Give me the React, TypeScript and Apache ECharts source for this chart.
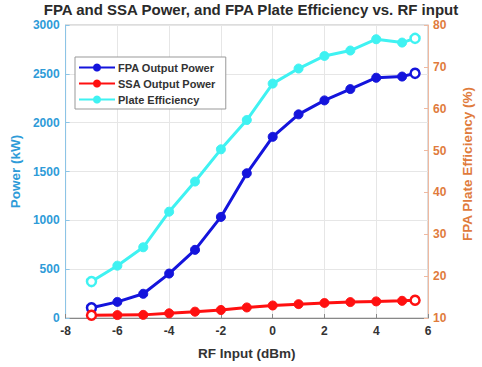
import React, { useEffect, useRef } from "react";
import * as echarts from "echarts";

const rfInput = [-7, -6, -5, -4, -3, -2, -1, 0, 1, 2, 3, 4, 5, 5.5];
const fpaPower = [105, 165, 248, 455, 698, 1035, 1482, 1855, 2085, 2228, 2344, 2460, 2472, 2505];
const ssaPower = [28, 30, 32, 48, 65, 82, 108, 128, 142, 154, 163, 170, 176, 182];
const plateEff = [18.7, 22.5, 26.9, 35.4, 42.6, 50.3, 57.3, 66.0, 69.6, 72.6, 73.9, 76.6, 75.8, 76.8];

const xTicks = [-8, 6, 2];
const leftTicks = [0, 3000, 500];
const rightTicks = [10, 80, 10];

const FONT = "Liberation Sans, Arial, sans-serif";
const BLUE = "#1414dc";
const RED = "#ff1010";
const CYAN = "#3ff2f2";
const LEFT_C = "#2e9bd8";
const RIGHT_C = "#e07b3c";

function mkData(xs: number[], ys: number[]) {
  return xs.map((x, i) => {
    const edge = i === 0 || i === xs.length - 1;
    return edge
      ? { value: [x, ys[i]], itemStyle: { color: "#ffffff", borderWidth: 2.5 } }
      : { value: [x, ys[i]] };
  });
}

export default function App() {
  const ref = useRef<HTMLDivElement>(null);
  useEffect(() => {
    if (!ref.current) return;
    const chart = echarts.init(ref.current, null, { renderer: "svg" });
    const mkSeries = (name: string, ys: number[], color: string, yIdx: number) => ({
      name,
      type: "line",
      yAxisIndex: yIdx,
      data: mkData(rfInput, ys),
      symbol: "circle",
      symbolSize: 9,
      lineStyle: { color, width: 3 },
      itemStyle: { color, borderColor: color, borderWidth: 1 },
      z: 3,
    });
    const plain = (v: number) => String(v);
    chart.setOption({
      animation: false,
      backgroundColor: "#ffffff",
      title: {
        text: "FPA and SSA Power, and FPA Plate Efficiency vs. RF input",
        left: 246,
        top: -3,
        textAlign: "center",
        textStyle: { fontFamily: FONT, fontSize: 15, fontWeight: "bold", color: "#2a2a2a" },
      },
      legend: {
        left: 75,
        top: 57,
        orient: "vertical",
        itemWidth: 36,
        itemHeight: 10,
        itemGap: 5,
        padding: [5, 10, 4, 3],
        backgroundColor: "#ffffff",
        borderColor: "#999999",
        borderWidth: 1,
        borderRadius: 0,
        textStyle: { fontFamily: FONT, fontSize: 11, fontWeight: "bold", color: "#333333", padding: [0, 0, 0, -2] },
        itemStyle: { borderWidth: 0 },
        data: [
          { name: "FPA Output Power", itemStyle: { color: BLUE } },
          { name: "SSA Output Power", itemStyle: { color: RED } },
          { name: "Plate Efficiency", itemStyle: { color: CYAN } },
        ],
      },
      grid: { left: 63, right: 44, top: 25, bottom: 49, show: true, borderColor: "#bbbbbb", borderWidth: 1 },
      xAxis: {
        type: "value",
        min: xTicks[0],
        max: xTicks[1],
        interval: xTicks[2],
        name: "RF Input (dBm)",
        nameLocation: "middle",
        nameGap: 28,
        nameTextStyle: { fontFamily: FONT, fontSize: 13.5, fontWeight: "bold", color: "#333333" },
        axisLine: { show: true, onZero: false, lineStyle: { color: "#888888", width: 1 } },
        axisTick: { show: true, inside: true, length: 4, lineStyle: { color: "#888888" } },
        axisLabel: { fontFamily: FONT, fontSize: 12, fontWeight: "bold", color: "#333333", margin: 7, formatter: plain },
        splitLine: { show: true, lineStyle: { color: "#e6e6e6", width: 1 } },
      },
      yAxis: [
        {
          type: "value",
          position: "left",
          min: leftTicks[0],
          max: leftTicks[1],
          interval: leftTicks[2],
          name: "Power (kW)",
          nameLocation: "middle",
          nameRotate: 90,
          nameGap: 43,
          nameTextStyle: { fontFamily: FONT, fontSize: 13.5, fontWeight: "bold", color: LEFT_C },
          axisLine: { show: true, onZero: false, lineStyle: { color: "#8cc4e6", width: 1 } },
          axisTick: { show: true, inside: true, length: 4, lineStyle: { color: "#8cc4e6" } },
          axisLabel: { fontFamily: FONT, fontSize: 12, fontWeight: "bold", color: LEFT_C, margin: 6, formatter: plain },
          splitLine: { show: true, lineStyle: { color: "#e6e6e6", width: 1 } },
        },
        {
          type: "value",
          position: "right",
          min: rightTicks[0],
          max: rightTicks[1],
          interval: rightTicks[2],
          name: "FPA Plate Efficiency (%)",
          nameLocation: "middle",
          nameRotate: 90,
          nameGap: 32,
          nameTextStyle: { fontFamily: FONT, fontSize: 13.5, fontWeight: "bold", color: RIGHT_C, padding: [0, 0, 0, 15] },
          axisLine: { show: true, onZero: false, lineStyle: { color: "#efb9a0", width: 1 } },
          axisTick: { show: true, inside: true, length: 4, lineStyle: { color: "#efb9a0" } },
          axisLabel: { fontFamily: FONT, fontSize: 12, fontWeight: "bold", color: RIGHT_C, margin: 5, formatter: plain },
          splitLine: { show: false },
        },
      ],
      series: [
        mkSeries("FPA Output Power", fpaPower, BLUE, 0),
        mkSeries("SSA Output Power", ssaPower, RED, 0),
        mkSeries("Plate Efficiency", plateEff, CYAN, 1),
      ],
    });
    return () => chart.dispose();
  }, []);
  return <div ref={ref} style={{ width: 482, height: 367, position: "absolute", left: 0, top: 0 }} />;
}
